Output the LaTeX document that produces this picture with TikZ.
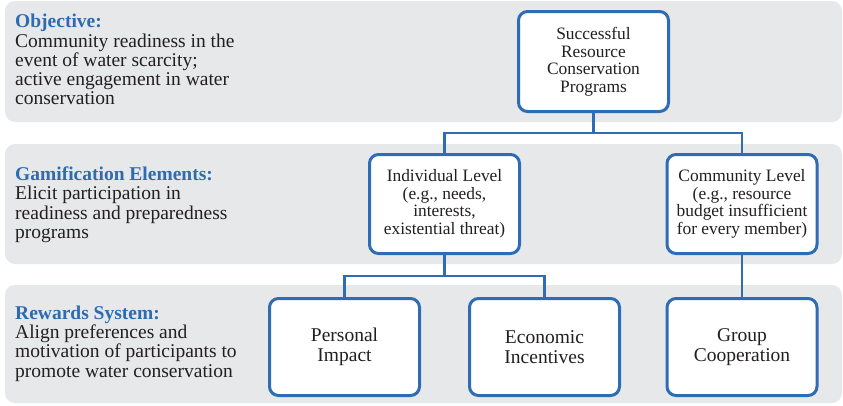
\documentclass[tikz,border=0pt]{standalone}
\usepackage{fontspec}
\setmainfont{Liberation Serif}
\definecolor{bandgray}{HTML}{E7E8EA}
\definecolor{lineblue}{HTML}{2E6DB5}
\definecolor{headblue}{HTML}{2B6CB3}
\definecolor{textgray}{HTML}{231F20}
\newcommand{\headtext}[1]{\textcolor{headblue}{\textbf{#1}}}

\begin{document}
\begin{tikzpicture}[x=1pt,y=-1pt,
    band/.style={fill=bandgray,rounded corners=10pt},
    lbl/.style={anchor=north west,align=left,inner sep=0pt,text=textgray,
        font=\fontsize{19.5}{19.3}\selectfont},
    box/.style={draw=lineblue,line width=3pt,fill=white,rounded corners=9pt,
        minimum width=150pt,minimum height=99pt,inner sep=0pt,align=center,
        text=textgray,font=\fontsize{17.4}{17.5}\selectfont},
    bigbox/.style={box,minimum height=97pt,font=\fontsize{19.5}{20}\selectfont},
    conn/.style={lineblue,line width=2.8pt}]
    \useasboundingbox (0,0) rectangle (843,405);
    % grey bands
    \fill[band] (5,1) rectangle (842,122);
    \fill[band] (5,144) rectangle (842,264);
    \fill[band] (5,285) rectangle (842,403);
    % text on the left
    \node[lbl] (objective) at (15,14) {\headtext{Objective:}\\
        Community readiness in the\\ event of water scarcity;\\
        active engagement in water\\ conservation};
    \node[lbl] (gamification) at (15,166.5) {\headtext{Gamification Elements:}\\
        Elicit participation in\\ readiness and preparedness\\ programs};
    \node[lbl] (rewards) at (15,305.5) {\headtext{Rewards System:}\\
        Align preferences and\\ motivation of participants to\\
        promote water conservation};
    % boxes
    \node[box,minimum height=100pt] (programs) at (593.5,61.5)
        {Successful\\ Resource\\ Conservation\\ Programs};
    \node[box] (individual) at (444.5,204)
        {Individual Level\\ (e.g., needs,\\ interests,\\ existential threat)};
    \node[box] (community) at (742,204)
        {Community Level\\ (e.g., resource\\ budget insufficient\\ for every member)};
    \node[bigbox] (personal) at (344.5,347) {Personal\\ Impact};
    \node[bigbox] (economic) at (544.5,347) {Economic\\ Incentives};
    \node[bigbox] (group) at (742,347) {Group\\ Cooperation};
    % connectors
    \coordinate (split1) at (593.5,133);
    \coordinate (split2) at (444.5,276);
    \draw[conn] (programs.south) -- (split1) -| (individual.north);
    \draw[conn] (split1) -| (community.north);
    \draw[conn] (individual.south) -- (split2) -| (personal.north);
    \draw[conn] (split2) -| (economic.north);
    \draw[conn] (community.south) -- (group.north);
\end{tikzpicture}
\end{document}
